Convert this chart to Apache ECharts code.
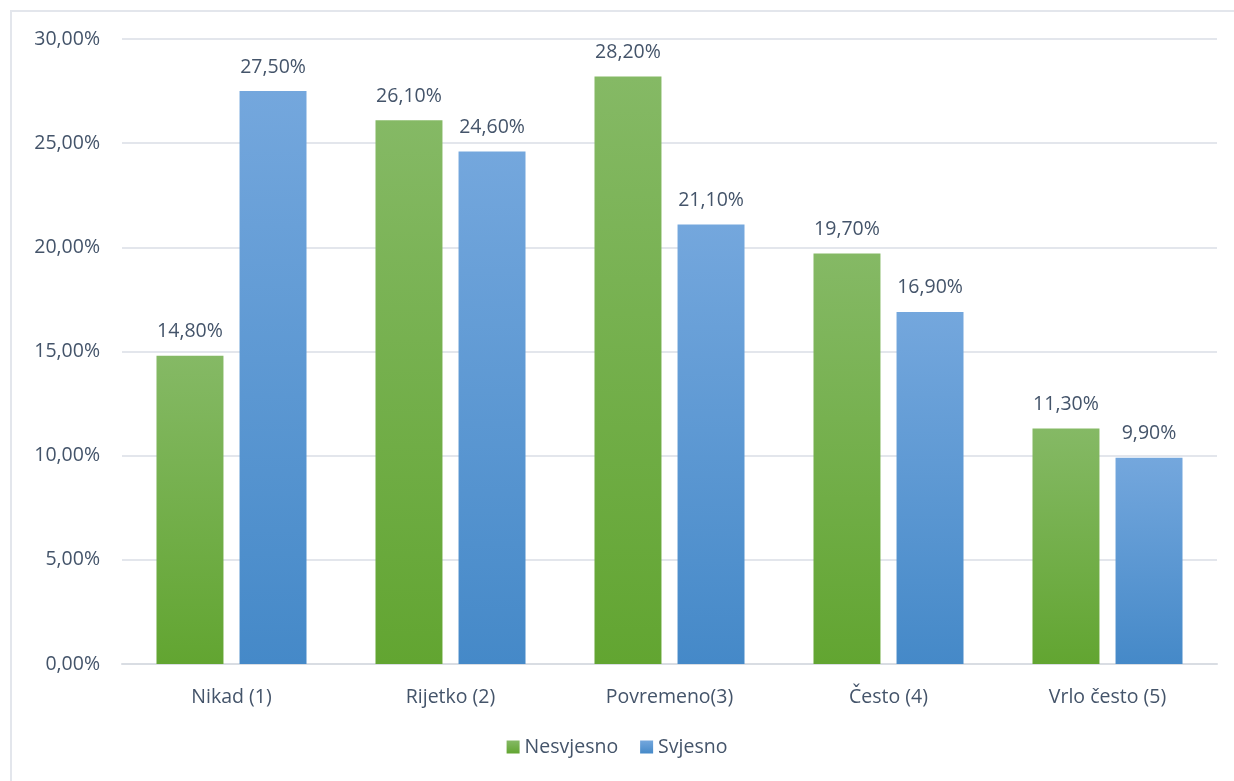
<!DOCTYPE html>
<html><head><meta charset="utf-8">
<script src="https://cdn.jsdelivr.net/npm/echarts@6/dist/echarts.min.js"></script>
<style>html,body{margin:0;padding:0;background:#fff}#frame{position:absolute;left:10px;top:10px;width:1240px;height:790px;border:2px solid #e3e6ec;box-sizing:border-box}#c{position:absolute;left:0;top:0;width:1234px;height:781px}</style>
</head><body><div id="frame"></div><div id="c"></div>
<script>
const categories = ['Nikad (1)', 'Rijetko (2)', 'Povremeno(3)', 'Često (4)', 'Vrlo često (5)'];
const nesvjesno = [14.8, 26.1, 28.2, 19.7, 11.3];
const svjesno = [27.5, 24.6, 21.1, 16.9, 9.9];
const seriesNames = ['Nesvjesno', 'Svjesno'];

const fmt = v => v.toFixed(2).replace('.', ',') + '%';
const txt = '#44546a';
const font = 'Open Sans';
const fs = 19.5;
function grad(top, bottom) {
  return new echarts.graphic.LinearGradient(0, 0, 0, 1, [{offset: 0, color: top}, {offset: 1, color: bottom}]);
}
const chart = echarts.init(document.getElementById('c'));
chart.setOption({
  animation: false,
  textStyle: {fontFamily: font},
  grid: {left: 122, right: 17, top: 39, bottom: 117},
  legend: {
    bottom: 19, left: 'center', itemWidth: 13, itemHeight: 13, itemGap: 22,
    icon: 'rect',
    textStyle: {color: txt, fontSize: fs, fontFamily: font},
    data: seriesNames
  },
  xAxis: {
    type: 'category', data: categories,
    axisLine: {lineStyle: {color: '#d9dde3', width: 2}},
    axisTick: {show: false},
    axisLabel: {color: txt, fontSize: fs, margin: 23, fontFamily: font}
  },
  yAxis: {
    type: 'value', min: 0, max: 30, interval: 5,
    axisLine: {show: false}, axisTick: {show: false},
    splitLine: {lineStyle: {color: '#e3e6ec', width: 2}},
    axisLabel: {color: txt, fontSize: fs, margin: 22, fontFamily: font, formatter: v => fmt(v)}
  },
  series: [
    {
      name: seriesNames[0], type: 'bar', data: nesvjesno,
      barGap: '24%', barCategoryGap: '31.5%',
      itemStyle: {color: grad('#85b965', '#62a531')},
      label: {show: true, position: 'top', distance: 14, color: txt, fontSize: fs, fontFamily: font, formatter: p => fmt(p.value)}
    },
    {
      name: seriesNames[1], type: 'bar', data: svjesno,
      itemStyle: {color: grad('#74a7dd', '#4589c8')},
      label: {show: true, position: 'top', distance: 14, color: txt, fontSize: fs, fontFamily: font, formatter: p => fmt(p.value)}
    }
  ]
});
</script></body></html>
